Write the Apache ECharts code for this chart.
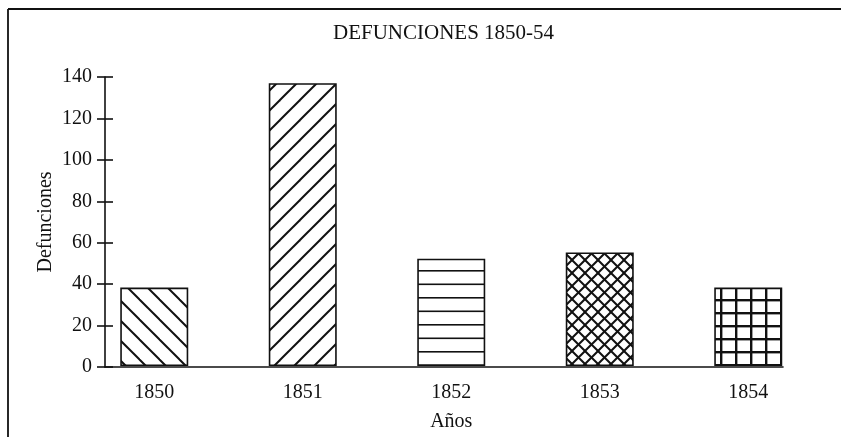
<!DOCTYPE html>
<html>
<head>
<meta charset="utf-8">
<title>Defunciones 1850-54</title>
<script src="https://cdn.jsdelivr.net/npm/echarts@6/dist/echarts.min.js"></script>
<style>
  html, body { margin: 0; padding: 0; background: #fff; }
  #chart { width: 841px; height: 437px; }
</style>
</head>
<body>
<div id="chart"></div>
<script>
// Deaths per year, 1850-1854
var years = ['1850', '1851', '1852', '1853', '1854'];
var deaths = [38, 137, 52, 55, 38];
var yTicks = { min: 0, max: 140, step: 20 };

var FONT = '"Liberation Serif", "Times New Roman", serif';
var INK = '#111';

// ---- hatch fills -------------------------------------------------------
function tile(w, h, draw) {
  var c = document.createElement('canvas');
  c.width = w; c.height = h;
  var g = c.getContext('2d');
  g.fillStyle = '#fff';
  g.fillRect(0, 0, w, h);
  g.strokeStyle = INK;
  g.lineCap = 'butt';
  draw(g, w, h);
  return { image: c, repeat: 'repeat' };
}
function back(g, s) {          // "\" lines
  for (var k = -1; k <= 1; k++) {
    g.beginPath();
    g.moveTo(k * s - 2, -2);
    g.lineTo(k * s + s + 2, s + 2);
    g.stroke();
  }
}
function fwd(g, s) {           // "/" lines
  for (var k = -1; k <= 1; k++) {
    g.beginPath();
    g.moveTo(k * s - 2, s + 2);
    g.lineTo(k * s + s + 2, -2);
    g.stroke();
  }
}
var fills = [
  tile(20, 20, function (g, w) { g.lineWidth = 2; back(g, w); }),
  tile(20, 20, function (g, w) { g.lineWidth = 2; fwd(g, w); }),
  tile(20, 27, function (g, w, h) {
    g.lineWidth = 1.6;
    g.beginPath(); g.moveTo(0, 0.8); g.lineTo(w, 0.8); g.stroke();
    g.beginPath(); g.moveTo(0, 14.3); g.lineTo(w, 14.3); g.stroke();
  }),
  tile(13, 13, function (g, w) { g.lineWidth = 2; back(g, w); fwd(g, w); }),
  tile(15, 13, function (g, w, h) {
    g.lineWidth = 2.4;
    g.beginPath(); g.moveTo(1.2, 0); g.lineTo(1.2, h); g.stroke();
    g.beginPath(); g.moveTo(0, 1.2); g.lineTo(w, 1.2); g.stroke();
  })
];

var barData = deaths.map(function (v, i) {
  return {
    value: v,
    itemStyle: { color: fills[i], borderColor: INK, borderWidth: 1.6 }
  };
});

var chart = echarts.init(document.getElementById('chart'), null, { renderer: 'canvas' });

chart.setOption({
  animation: false,
  backgroundColor: '#fff',
  title: {
    text: 'DEFUNCIONES 1850-54',
    left: 333,
    top: 23,
    padding: 0,
    textStyle: { fontFamily: FONT, fontSize: 21, fontWeight: 'normal', color: INK }
  },
  grid: [
    // frame of the value axis and the baseline
    { left: 105, right: 58, top: 77, bottom: 70, containLabel: false },
    // category band for the bars
    { left: 80, right: 18.5, top: 77, bottom: 70, containLabel: false }
  ],
  xAxis: [
    {
      gridIndex: 0, type: 'value', min: 0, max: 1,
      axisLine: { show: true, onZero: false, lineStyle: { color: INK, width: 1.6 } },
      axisTick: { show: false }, axisLabel: { show: false }, splitLine: { show: false }
    },
    {
      gridIndex: 1, type: 'category', data: years,
      name: 'Años', nameLocation: 'middle', nameGap: 46, nameMoveOverlap: false,
      nameTextStyle: { fontFamily: FONT, fontSize: 20, color: INK },
      axisLine: { show: false }, axisTick: { show: false },
      axisLabel: { fontFamily: FONT, fontSize: 20, color: INK, margin: 17 }
    }
  ],
  yAxis: [
    {
      gridIndex: 0, type: 'value', position: 'left',
      min: yTicks.min, max: yTicks.max, interval: yTicks.step,
      name: 'Defunciones', nameLocation: 'middle', nameGap: 49, nameRotate: 90,
      nameMoveOverlap: false,
      nameTextStyle: { fontFamily: FONT, fontSize: 20, color: INK },
      axisLine: { show: true, lineStyle: { color: INK, width: 1.6 } },
      axisTick: { show: true, inside: false, length: 8, lineStyle: { color: INK, width: 1.6 } },
      axisLabel: { fontFamily: FONT, fontSize: 20, color: INK, margin: 13 },
      splitLine: { show: false }
    },
    {
      // inner half of the crossing ticks
      gridIndex: 0, type: 'value', position: 'left', offset: 0,
      min: yTicks.min, max: yTicks.max, interval: yTicks.step,
      axisLine: { show: false },
      axisTick: { show: true, inside: true, length: 8, lineStyle: { color: INK, width: 1.6 } },
      axisLabel: { show: false }, splitLine: { show: false }
    },
    {
      gridIndex: 1, type: 'value', min: yTicks.min, max: yTicks.max, show: false
    }
  ],
  graphic: [
    { type: 'line', shape: { x1: 8, y1: 9, x2: 841, y2: 9 }, style: { stroke: INK, lineWidth: 1.8 } },
    { type: 'line', shape: { x1: 8, y1: 9, x2: 8, y2: 437 }, style: { stroke: INK, lineWidth: 1.8 } }
  ],
  series: [{
    type: 'bar',
    xAxisIndex: 1, yAxisIndex: 2,
    barWidth: 68,
    data: barData
  }]
});
</script>
</body>
</html>
